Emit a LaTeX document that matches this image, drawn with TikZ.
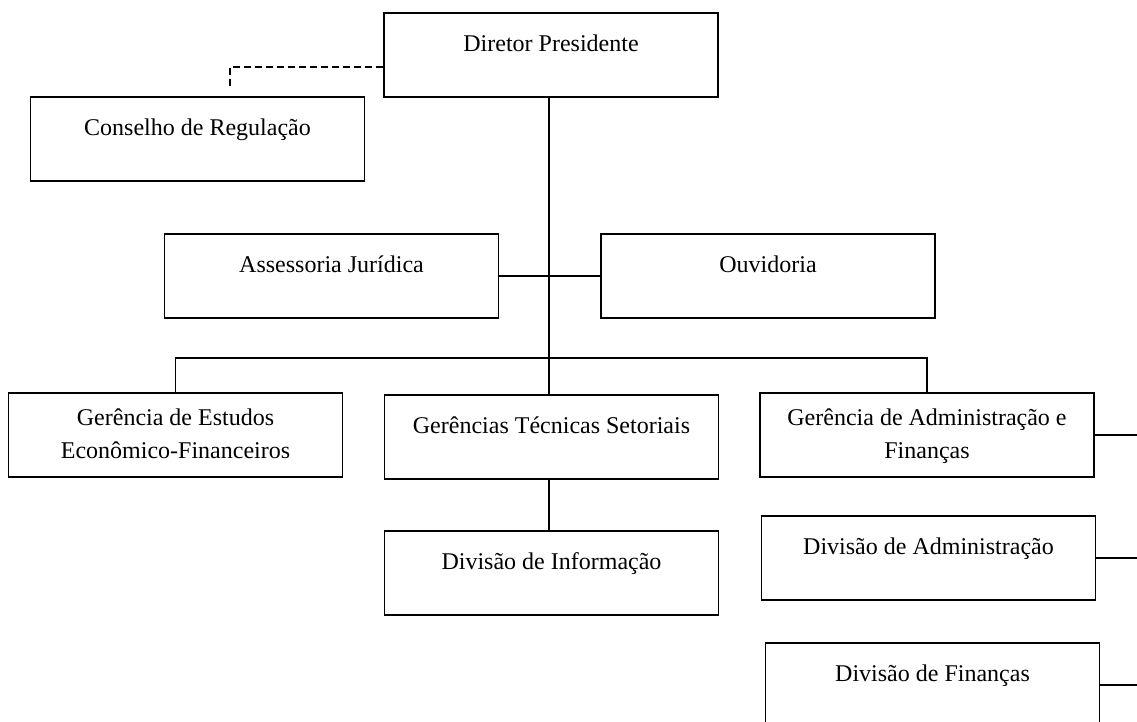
\documentclass[tikz,border=0pt]{standalone}
\usepackage{fontspec}
\setmainfont{Liberation Serif}
\begin{document}
\begin{tikzpicture}[x=1pt,y=-1pt,
        unit/.style={draw,line width=1.1pt,inner sep=0pt,minimum width=334pt,minimum height=84pt,
            font=\fontsize{24}{33}\selectfont,text height=38pt,text depth=46pt},
        twoline/.style={unit,text height=32pt,text depth=52pt},
        link/.style={line width=1.6pt},
        advice/.style={link,dash pattern=on 7pt off 4pt}]
    \useasboundingbox (0,0) rectangle (1137,721);
    \node[unit] (dp) at (551,55) {Diretor Presidente};
    \node[unit] (cr) at (197.5,139) {Conselho de Regula\c{c}\~ao};
    \node[unit] (aj) at (331.5,276) {Assessoria Jur\'idica};
    \node[unit] (ouv) at (768,276) {Ouvidoria};
    \node[twoline] (gef) at (175.5,435) {\begin{tabular}[t]{c}Ger\^encia de Estudos\\Econ\^omico-Financeiros\end{tabular}};
    \node[unit] (gts) at (551.5,437) {Ger\^encias T\'ecnicas Setoriais};
    \node[twoline] (gaf) at (927,435) {\begin{tabular}[t]{c}Ger\^encia de Administra\c{c}\~ao e\\Finan\c{c}as\end{tabular}};
    \node[unit] (dinf) at (551.5,573) {Divis\~ao de Informa\c{c}\~ao};
    \node[unit] (dadm) at (928.5,558) {Divis\~ao de Administra\c{c}\~ao};
    \node[unit] (dfin) at (932.5,685) {Divis\~ao de Finan\c{c}as};
    \coordinate (bus) at (549,358);
    \coordinate (crtip) at (230,89);
    \coordinate (rim) at (1137,0);
    \draw[advice] ([yshift=-12pt]dp.west) -| (crtip);
    \draw[link] (dp.south -| bus) -- (gts.north -| bus);
    \draw[link] (aj.east) -- (ouv.west);
    \draw[link] (gef.north) |- (bus) -| (gaf.north);
    \draw[link] (gts.south -| bus) -- (dinf.north -| bus);
    \draw[link] (gaf.east) -- (gaf.east -| rim);
    \draw[link] (dadm.east) -- (dadm.east -| rim);
    \draw[link] (dfin.east) -- (dfin.east -| rim);
\end{tikzpicture}
\end{document}
